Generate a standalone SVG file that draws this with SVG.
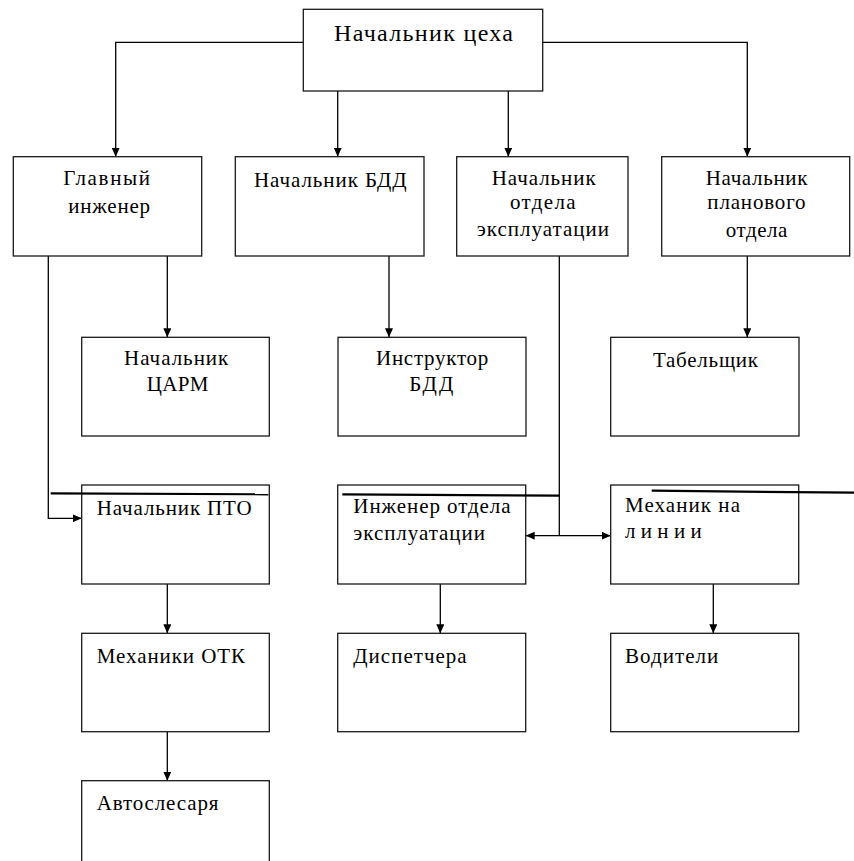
<svg xmlns="http://www.w3.org/2000/svg" width="854" height="861" viewBox="0 0 854 861">
<style>
.box{fill:#fff;stroke:#1a1a1a;stroke-width:1.3}
.t{font-family:'Liberation Serif','DejaVu Serif',serif;font-size:21px;fill:#000}
.tt{font-family:'Liberation Serif','DejaVu Serif',serif;font-size:24px;fill:#000}
.c{fill:none;stroke:#000;stroke-width:1.3}
.a{marker-end:url(#ah)}
.th{fill:none;stroke:#000;stroke-width:2.2}
</style>
<defs>
<marker id="ah" markerUnits="userSpaceOnUse" markerWidth="9" markerHeight="8" refX="9" refY="4" orient="auto-start-reverse">
<path d="M0,0 L9,4 L0,8 z" fill="#000"/>
</marker>
</defs>
<rect width="854" height="861" fill="#fff"/>
<g id="connectors">
<path class="c a" d="M303.3,42.3 H115.7 V156.7"/>
<path class="c a" d="M542.7,42.3 H747.3 V156.7"/>
<path class="c a" d="M337.7,91 V156.7"/>
<path class="c a" d="M508.3,91 V156.7"/>
<path class="c a" d="M48.3,256 V518.3 H81.7"/>
<path class="c a" d="M167.3,256 V337.3"/>
<path class="c a" d="M389,256 V337.3"/>
<path class="c a" d="M747.3,256 V337.3"/>
<path class="c" d="M559.3,256 V535.7"/>
<path class="c a" d="M525.7,535.7 H610.7" marker-start="url(#ah)"/>
<path class="c a" d="M167.3,584 V633.3"/>
<path class="c a" d="M167.3,731.7 V780.7"/>
<path class="c a" d="M440.3,584 V633.3"/>
<path class="c a" d="M713.3,584 V633.3"/>
</g>
<g id="n-top"><rect class="box" x="303.3" y="9.3" width="239.4" height="81.7"/><text class="tt" x="334" y="40.7" textLength="179">Начальник цеха</text></g>
<g id="n-glavinzh"><rect class="box" x="13.3" y="156.7" width="188.4" height="99.3"/><text class="t" x="63.3" y="185" textLength="86.7">Главный</text><text class="t" x="68.3" y="212.7" textLength="81.7">инженер</text></g>
<g id="n-bdd"><rect class="box" x="235.3" y="156.7" width="188.7" height="99.3"/><text class="t" x="254" y="187" textLength="152.7">Начальник БДД</text></g>
<g id="n-expl"><rect class="box" x="456.7" y="156.7" width="171.3" height="99.3"/><text class="t" x="491.7" y="185" textLength="104">Начальник</text><text class="t" x="510" y="208.5" textLength="65.7">отдела</text><text class="t" x="476.7" y="235.5" textLength="132.3">эксплуатации</text></g>
<g id="n-plan"><rect class="box" x="661.7" y="156.7" width="188" height="99.3"/><text class="t" x="705.7" y="185" textLength="101.7">Начальник</text><text class="t" x="707.3" y="208.5" textLength="98.3">планового</text><text class="t" x="725.7" y="236.5" textLength="61.7">отдела</text></g>
<g id="n-tsarm"><rect class="box" x="81.7" y="337.3" width="187.6" height="98.7"/><text class="t" x="124" y="365" textLength="104.3">Начальник</text><text class="t" x="146.7" y="390.5" textLength="61.7">ЦАРМ</text></g>
<g id="n-instr"><rect class="box" x="338" y="337.3" width="188" height="98.7"/><text class="t" x="376" y="365" textLength="112.3">Инструктор</text><text class="t" x="409.3" y="390.5" textLength="44">БДД</text></g>
<g id="n-tabel"><rect class="box" x="610.7" y="337.3" width="188.3" height="98.7"/><text class="t" x="653" y="366.5" textLength="105">Табельщик</text></g>
<g id="n-pto"><rect class="box" x="81.7" y="485" width="187.6" height="99"/><text class="t" x="96.7" y="515" textLength="155">Начальник ПТО</text></g>
<g id="n-inzh"><rect class="box" x="337.7" y="485" width="188" height="99"/><text class="t" x="353.3" y="513.3" textLength="157.3">Инженер отдела</text><text class="t" x="353.3" y="540" textLength="131.7">эксплуатации</text></g>
<g id="n-mekh"><rect class="box" x="610.7" y="485" width="188" height="99"/><text class="t" x="625" y="511.7" textLength="115">Механик на</text><text class="t" x="625" y="538.3" textLength="76.7">линии</text></g>
<g id="n-otk"><rect class="box" x="81.7" y="633.3" width="187.6" height="98.4"/><text class="t" x="96.7" y="662.7" textLength="148.3">Механики ОТК</text></g>
<g id="n-disp"><rect class="box" x="337.7" y="633.3" width="188" height="98.4"/><text class="t" x="353.3" y="662.5" textLength="113.3">Диспетчера</text></g>
<g id="n-vod"><rect class="box" x="610.7" y="633.3" width="188" height="98.4"/><text class="t" x="625" y="662.7" textLength="93.3">Водители</text></g>
<g id="n-avto"><rect class="box" x="81.7" y="780.7" width="187.6" height="100"/><text class="t" x="96.7" y="810" textLength="121.7">Автослесаря</text></g>
<g id="overlay-lines">
<path class="th" d="M50.7,493.3 L268.3,494.3"/>
<path class="th" d="M342.3,494.3 L559.3,495.7"/>
<path class="th" d="M651.7,490.7 L854,492.7"/>
</g>
</svg>
